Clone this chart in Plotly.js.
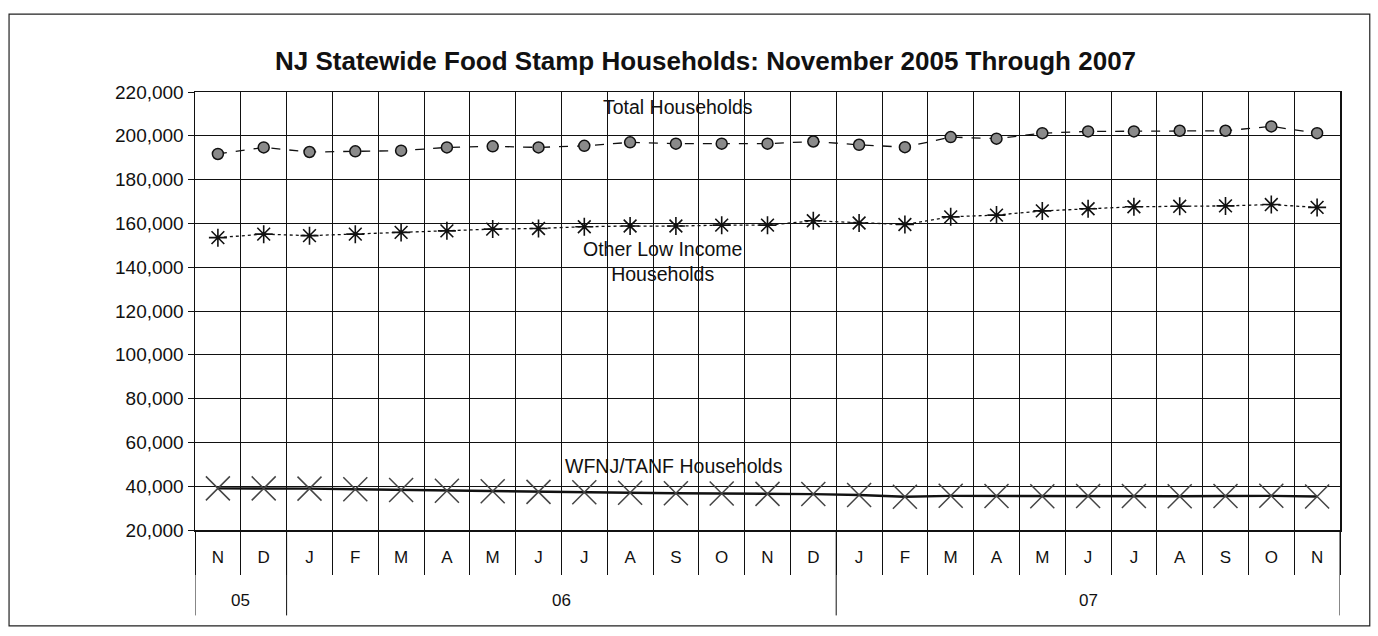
<!DOCTYPE html>
<html>
<head>
<meta charset="utf-8">
<script src="https://cdn.plot.ly/plotly-3.0.1.min.js"></script>
<style>
  html, body { margin: 0; padding: 0; background: #fff; }
  #chart { width: 1378px; height: 636px; }
</style>
</head>
<body>
<div id="chart"></div>
<script>
// ---- Data ----
const months = ['N','D','J','F','M','A','M','J','J','A','S','O','N','D','J','F','M','A','M','J','J','A','S','O','N'];
const monthYear = ['05','05','06','06','06','06','06','06','06','06','06','06','06','06','07','07','07','07','07','07','07','07','07','07','07'];

const totalHouseholds = [191700, 194700, 192600, 192900, 193200, 194700, 195200, 194700, 195400, 197000, 196400, 196400, 196400, 197400, 195900, 194800, 199400, 198700, 201200, 202000, 202000, 202300, 202300, 204300, 201200];
const otherLowIncome  = [153500, 155100, 154400, 155100, 155900, 156600, 157400, 157700, 158500, 158800, 158800, 159200, 159200, 161200, 160200, 159500, 163000, 163800, 165700, 166700, 167600, 167800, 168000, 168600, 167300];
const wfnjTanf        = [39000, 39000, 38900, 38600, 38300, 37900, 37700, 37400, 37200, 37000, 36800, 36700, 36500, 36400, 36000, 35200, 35600, 35500, 35400, 35500, 35500, 35400, 35500, 35600, 35300];

const seriesLabels = {
  total: 'Total Households',
  other: 'Other Low Income<br>Households',
  wfnj: 'WFNJ/TANF Households'
};
const chartTitle = 'NJ Statewide Food Stamp Households: November 2005 Through 2007';

// ---- Derived positions (category index) ----
const idx = months.map((_, i) => i);
const boundaries = months.map((_, i) => i - 0.5).concat([months.length - 0.5]);

// year groups from monthYear
const groups = [];
monthYear.forEach((y, i) => {
  if (!groups.length || groups[groups.length - 1].label !== y) groups.push({label: y, start: i, end: i});
  else groups[groups.length - 1].end = i;
});

const FONT = 'Arial, "Liberation Sans", sans-serif';

const traces = [
  {
    x: idx, y: totalHouseholds, type: 'scatter', mode: 'lines+markers', name: 'Total',
    line: {color: '#111', width: 1.3, dash: 'dash'},
    marker: {symbol: 'circle', size: 11, color: '#8a8a8a', line: {color: '#111', width: 1.5}}
  },
  {
    x: idx, y: otherLowIncome, type: 'scatter', mode: 'lines+markers', name: 'Other',
    line: {color: '#111', width: 1.3, dash: 'dot'},
    marker: {symbol: 'asterisk-open', size: 15, color: '#111', line: {color: '#111', width: 1.6}}
  },
  {
    x: idx, y: wfnjTanf, type: 'scatter', mode: 'lines+markers', name: 'WFNJ',
    line: {color: '#111', width: 2.4},
    marker: {symbol: 'x-thin-open', size: 24, color: '#444', line: {color: '#444', width: 1.5}}
  }
];

const annotations = [
  {text: seriesLabels.total, xref: 'paper', yref: 'paper', x: 0.4218, y: 0.966},
  {text: seriesLabels.other, xref: 'paper', yref: 'paper', x: 0.4087, y: 0.614},
  {text: seriesLabels.wfnj, xref: 'paper', yref: 'paper', x: 0.418, y: 0.146}
].map(a => Object.assign(a, {showarrow: false, xanchor: 'center', yanchor: 'middle',
  font: {family: FONT, size: 19.5, color: '#111'}}));

groups.forEach(g => {
  annotations.push({
    text: g.label, xref: 'x', yref: 'paper', x: (g.start + g.end) / 2, y: -0.16,
    showarrow: false, xanchor: 'center', yanchor: 'middle',
    font: {family: FONT, size: 17, color: '#111'}
  });
});

const shapes = [];
// year dividers below the axis
const yearBounds = [groups[0].start - 0.5].concat(groups.map(g => g.end + 0.5));
yearBounds.forEach(b => {
  shapes.push({type: 'line', xref: 'x', yref: 'paper', x0: b, x1: b, y0: 0, y1: -0.195,
    line: {color: '#111', width: 1}});
});
// outer frame
shapes.push({type: 'rect', xref: 'paper', yref: 'paper', x0: -0.1624, x1: 1.026, y0: -0.219, y1: 1.178,
  line: {color: '#222', width: 1.2}, fillcolor: 'rgba(0,0,0,0)'});

const layout = {
  width: 1378, height: 636,
  margin: {l: 195, r: 38, t: 92, b: 106},
  paper_bgcolor: '#fff', plot_bgcolor: '#fff',
  showlegend: false,
  font: {family: FONT, color: '#111'},
  title: {
    text: '<b>' + chartTitle + '</b>',
    font: {family: FONT, size: 26, color: '#111'},
    x: 0.512, xanchor: 'center', xref: 'container', y: 0.905, yanchor: 'middle'
  },
  xaxis: {
    type: 'linear', range: [-0.5, months.length - 0.5],
    tickmode: 'array', tickvals: idx, ticktext: months,
    ticks: '', showgrid: false, zeroline: false,
    tickfont: {family: FONT, size: 17, color: '#111'},
    ticklabelstandoff: 11,
    showline: true, linecolor: '#111', linewidth: 1.5, mirror: true,
    minor: {tickmode: 'array', tickvals: boundaries, ticks: 'outside', ticklen: 43,
      tickcolor: '#111', tickwidth: 1, showgrid: true, gridcolor: '#111', gridwidth: 1},
    fixedrange: true
  },
  yaxis: {
    range: [20000, 220000], dtick: 20000, tick0: 20000,
    tickformat: ',d', ticks: 'outside', ticklen: 6, tickcolor: '#111', tickwidth: 1,
    tickfont: {family: FONT, size: 19, color: '#111'},
    showgrid: true, gridcolor: '#111', gridwidth: 1, zeroline: false,
    showline: true, linecolor: '#111', linewidth: 1.5, mirror: true,
    fixedrange: true
  },
  annotations: annotations,
  shapes: shapes
};

Plotly.newPlot('chart', traces, layout, {displayModeBar: false, staticPlot: true});
</script>
</body>
</html>
